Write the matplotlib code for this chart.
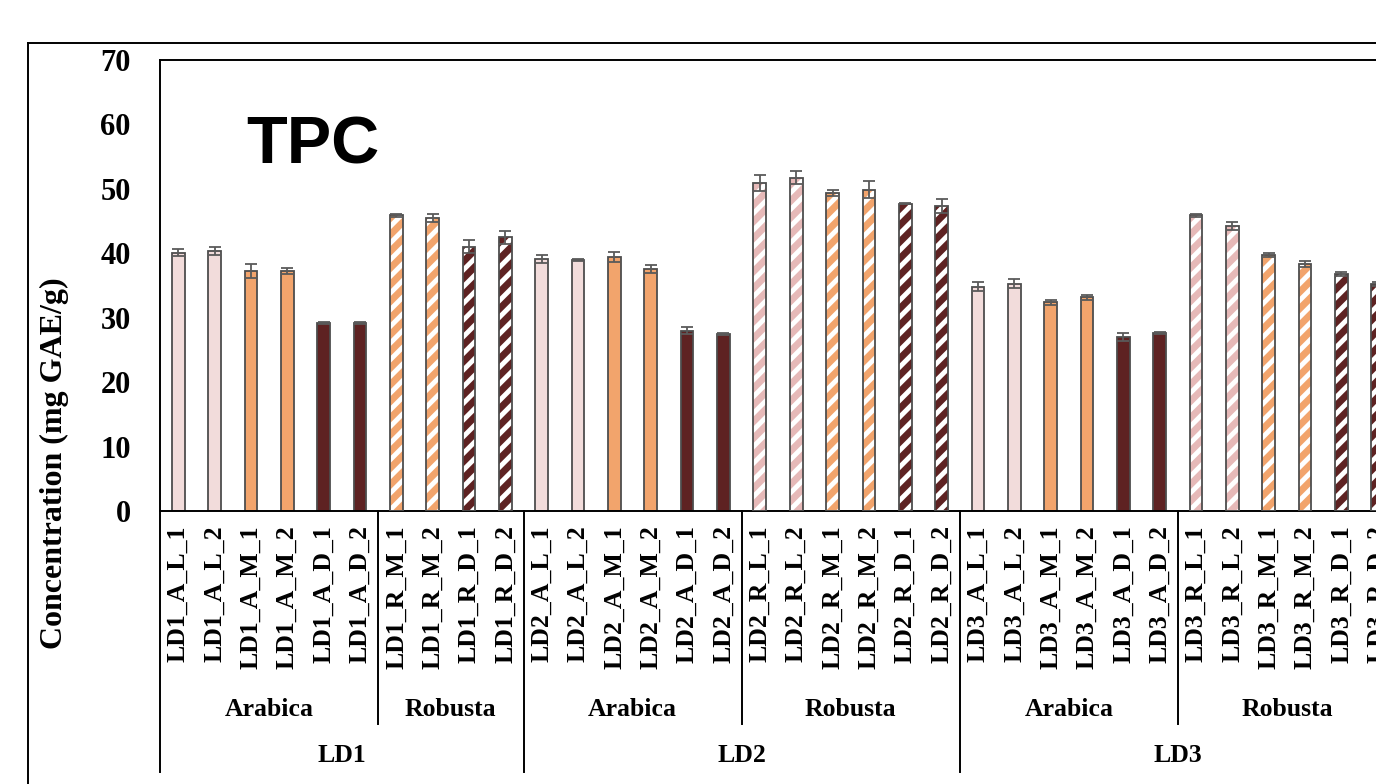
import matplotlib.pyplot as plt
from matplotlib.transforms import blended_transform_factory
from matplotlib.lines import Line2D

plt.rcParams['font.family'] = 'Liberation Serif'
plt.rcParams['font.weight'] = 'bold'
plt.rcParams['hatch.linewidth'] = 3.5

# Sample names, mean TPC and standard deviation
sample_labels = [
    "LD1_A_L_1", "LD1_A_L_2", "LD1_A_M_1", "LD1_A_M_2", "LD1_A_D_1", "LD1_A_D_2",
    "LD1_R_M_1", "LD1_R_M_2", "LD1_R_D_1", "LD1_R_D_2",
    "LD2_A_L_1", "LD2_A_L_2", "LD2_A_M_1", "LD2_A_M_2", "LD2_A_D_1", "LD2_A_D_2",
    "LD2_R_L_1", "LD2_R_L_2", "LD2_R_M_1", "LD2_R_M_2", "LD2_R_D_1", "LD2_R_D_2",
    "LD3_A_L_1", "LD3_A_L_2", "LD3_A_M_1", "LD3_A_M_2", "LD3_A_D_1", "LD3_A_D_2",
    "LD3_R_L_1", "LD3_R_L_2", "LD3_R_M_1", "LD3_R_M_2", "LD3_R_D_1", "LD3_R_D_2",
]
tpc_mean = [40.1, 40.3, 37.3, 37.3, 29.2, 29.2, 45.9, 45.5, 41.0, 42.5,
            39.1, 39.0, 39.4, 37.6, 28.0, 27.4, 50.9, 51.7, 49.3, 49.9, 47.7, 47.3,
            34.8, 35.3, 32.4, 33.2, 27.0, 27.6, 45.9, 44.2, 39.8, 38.3, 36.8, 35.2]
tpc_sd = [0.55, 0.6, 1.1, 0.45, 0.2, 0.2, 0.2, 0.6, 1.0, 1.0,
          0.65, 0.15, 0.8, 0.65, 0.6, 0.15, 1.2, 1.0, 0.45, 1.35, 0.1, 1.1,
          0.7, 0.7, 0.35, 0.4, 0.55, 0.15, 0.2, 0.6, 0.3, 0.45, 0.3, 0.3]

# Grouping levels under the x axis: (label, first slot, last slot)
variety_groups = [("Arabica", 0, 6), ("Robusta", 6, 10),
                  ("Arabica", 10, 16), ("Robusta", 16, 22),
                  ("Arabica", 22, 28), ("Robusta", 28, 34)]
ld_groups = [("LD1", 0, 10), ("LD2", 10, 22), ("LD3", 22, 34)]

# Fill colour by species and roast degree
roast_colors = {
    ("A", "L"): "#F2DCDB", ("A", "M"): "#F2A46C", ("A", "D"): "#5E2222",
    ("R", "L"): "#E6B9B8", ("R", "M"): "#F2A46C", ("R", "D"): "#5E2222",
}

W, H = 1376, 784
fig = plt.figure(figsize=(W / 100, H / 100), dpi=100)
ax = fig.add_axes([160 / W, 1 - 511 / H, (1396 - 160) / W, 451 / H])

x = [i + 0.5 for i in range(len(sample_labels))]
for xi, name, val in zip(x, sample_labels, tpc_mean):
    species, roast = name[4], name[6]
    color = roast_colors[(species, roast)]
    if species == "R":
        # white diagonal stripes over the fill
        ax.bar(xi, val, width=0.35, color=color, edgecolor="white",
               hatch="//", linewidth=0, zorder=2)
        ax.bar(xi, val, width=0.35, facecolor="none", edgecolor="#4d4d4d",
               linewidth=1.3, zorder=3)
    else:
        ax.bar(xi, val, width=0.35, color=color, edgecolor="#4d4d4d",
               linewidth=1.3, zorder=2)

ax.errorbar(x, tpc_mean, yerr=tpc_sd, fmt="none", ecolor="#5a5a5a",
            elinewidth=1.3, capsize=4.5, capthick=1.3, zorder=4)

ax.set_xlim(0, len(sample_labels))
ax.set_ylim(0, 70)
ax.set_yticks(range(0, 71, 10))
ax.tick_params(axis="y", length=0, pad=21, labelsize=22)
ax.set_xticks([])
for sp in ax.spines.values():
    sp.set_linewidth(1.4)
    sp.set_color("black")

# Multi-level category axis
tr = blended_transform_factory(ax.transData, fig.transFigure)
for xi, name in zip(x, sample_labels):
    ax.text(xi, 1 - 525 / H, name, rotation=90, ha="center", va="top",
            fontsize=18.5, transform=tr)
for name, a, b in variety_groups:
    ax.text((a + b) / 2, 1 - 709 / H, name, ha="center", va="center",
            fontsize=18.5, transform=tr)
    if a not in (0, 10, 22):
        ax.add_line(Line2D([a, a], [1 - 511 / H, 1 - 724 / H], color="black",
                           lw=1.4, transform=tr, clip_on=False))
for name, a, b in ld_groups:
    ax.text((a + b) / 2, 1 - 756 / H, name, ha="center", va="center",
            fontsize=18.5, transform=tr)
    ax.add_line(Line2D([a, a], [1 - 511 / H, 1 - 772 / H], color="black",
                       lw=1.4, transform=tr, clip_on=False))

ax.set_ylabel("Concentration (mg GAE/g)", fontsize=23, fontweight="bold")
ax.yaxis.set_label_coords(69 / W, 1 - 463 / H, transform=fig.transFigure)

# Chart-area frame
fig.add_artist(Line2D([28 / W, 28 / W], [0, 1 - 43 / H], color="black",
                      lw=1.4, transform=fig.transFigure))
fig.add_artist(Line2D([28 / W, 1], [1 - 43 / H, 1 - 43 / H], color="black",
                      lw=1.4, transform=fig.transFigure))

# Panel title
fig.text(246 / W, 1 - 163 / H, "TPC", family="Liberation Sans",
         fontweight="bold", fontsize=48, ha="left", va="baseline")

fig.savefig("out.png", dpi=100)
